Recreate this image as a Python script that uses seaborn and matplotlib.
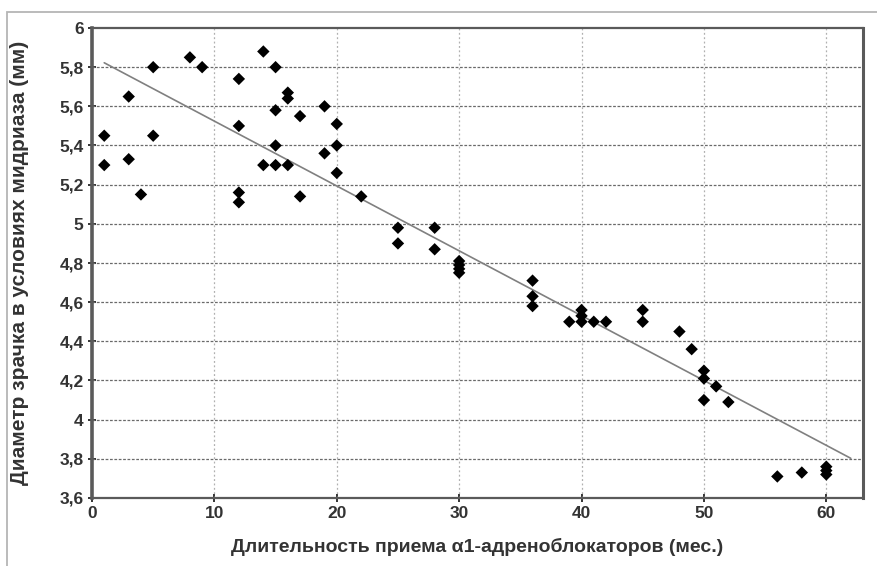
import numpy as np
import pandas as pd
import matplotlib
matplotlib.use("Agg")
import matplotlib.pyplot as plt
from matplotlib.ticker import FuncFormatter
from matplotlib.patches import Rectangle
import seaborn as sns

months = [1, 1, 3, 3, 4, 5, 5, 8, 9, 12, 12, 12, 12, 14, 14, 15, 15, 15, 15,
          16, 16, 16, 17, 17, 19, 19, 20, 20, 20, 22, 25, 25, 28, 28,
          30, 30, 30, 30, 36, 36, 36, 39, 40, 40, 40, 41, 42, 45, 45,
          48, 49, 50, 50, 50, 51, 52, 56, 58, 60, 60, 60]
diameter = [5.45, 5.30, 5.65, 5.33, 5.15, 5.80, 5.45, 5.85, 5.80, 5.74, 5.50, 5.16, 5.11, 5.88, 5.30, 5.80, 5.58, 5.40, 5.30,
            5.67, 5.64, 5.30, 5.55, 5.14, 5.60, 5.36, 5.51, 5.40, 5.26, 5.14, 4.98, 4.90, 4.98, 4.87,
            4.81, 4.79, 4.77, 4.75, 4.71, 4.63, 4.58, 4.50, 4.56, 4.53, 4.50, 4.50, 4.50, 4.56, 4.50,
            4.45, 4.36, 4.25, 4.21, 4.10, 4.17, 4.09, 3.71, 3.73, 3.76, 3.74, 3.72]
trend_range = [1, 62]
x_ticks = [0, 10, 20, 30, 40, 50, 60]
y_ticks = [3.6, 3.8, 4.0, 4.2, 4.4, 4.6, 4.8, 5.0, 5.2, 5.4, 5.6, 5.8, 6.0]
x_label = "Длительность приема α1-адреноблокаторов (мес.)"
y_label = "Диаметр зрачка в условиях мидриаза (мм)"

df = pd.DataFrame({"months": months, "diameter": diameter})

sns.set_theme(style="white")
plt.rcParams["font.family"] = ["Liberation Sans", "DejaVu Sans"]

fig = plt.figure(figsize=(8.77, 5.66), dpi=100)
ax = fig.add_axes([92/877, 1-498/566, (863-92)/877, (498-28)/566])

# outer chart frame
fig.patches.append(Rectangle((7/877, -0.1), 1.2, 1-12/566+0.1, transform=fig.transFigure,
                             fill=False, edgecolor="#b5b5b5", linewidth=1.3, zorder=0))

# trend line over the desired range
ax.set_xlim(trend_range[0], trend_range[1])
sns.regplot(data=df, x="months", y="diameter", scatter=False, ci=None, truncate=False,
            ax=ax, line_kws=dict(color="#808080", linewidth=1.2))

sns.scatterplot(data=df, x="months", y="diameter", marker="D", s=40, color="black",
                edgecolor="none", ax=ax, zorder=5)

ax.set_xlim(0, 63)
ax.set_ylim(3.6, 6.0)
ax.set_xticks(x_ticks)
ax.set_yticks(y_ticks)
ax.yaxis.set_major_formatter(FuncFormatter(lambda v, p: (f"{v:.1f}".rstrip("0").rstrip(".")).replace(".", ",")))

ax.grid(False)
for yv in y_ticks[1:-1]:
    ax.axhline(yv, color="#6a6a6a", linewidth=0.9, linestyle=(0, (2.2, 1.3)), zorder=1)
for xv in x_ticks[1:]:
    ax.axvline(xv, color="#b0b0b0", linewidth=0.9, linestyle=(0, (1.5, 2)), zorder=1)

for side in ["left", "bottom", "top", "right"]:
    ax.spines[side].set_visible(True)
    ax.spines[side].set_color("#5a5a5a")
ax.spines["left"].set_linewidth(2.6)
ax.spines["bottom"].set_linewidth(1.6)
ax.spines["top"].set_linewidth(1.6)
ax.spines["right"].set_linewidth(2.2)

ax.tick_params(axis="both", which="major", direction="inout", length=6, width=1.4,
               color="#333333", labelsize=12.5, labelcolor="#333333", pad=3)
ax.tick_params(axis="y", left=True)
ax.tick_params(axis="x", bottom=True)
for lab in ax.get_xticklabels() + ax.get_yticklabels():
    lab.set_fontweight("bold")

ax.set_xlabel(x_label, fontsize=14, fontweight="bold", color="#333333", labelpad=12)
ax.set_ylabel(y_label, fontsize=15, fontweight="bold", color="#333333")
ax.yaxis.set_label_coords(-0.082, 0.5)

fig.savefig("out.png", dpi=100)
